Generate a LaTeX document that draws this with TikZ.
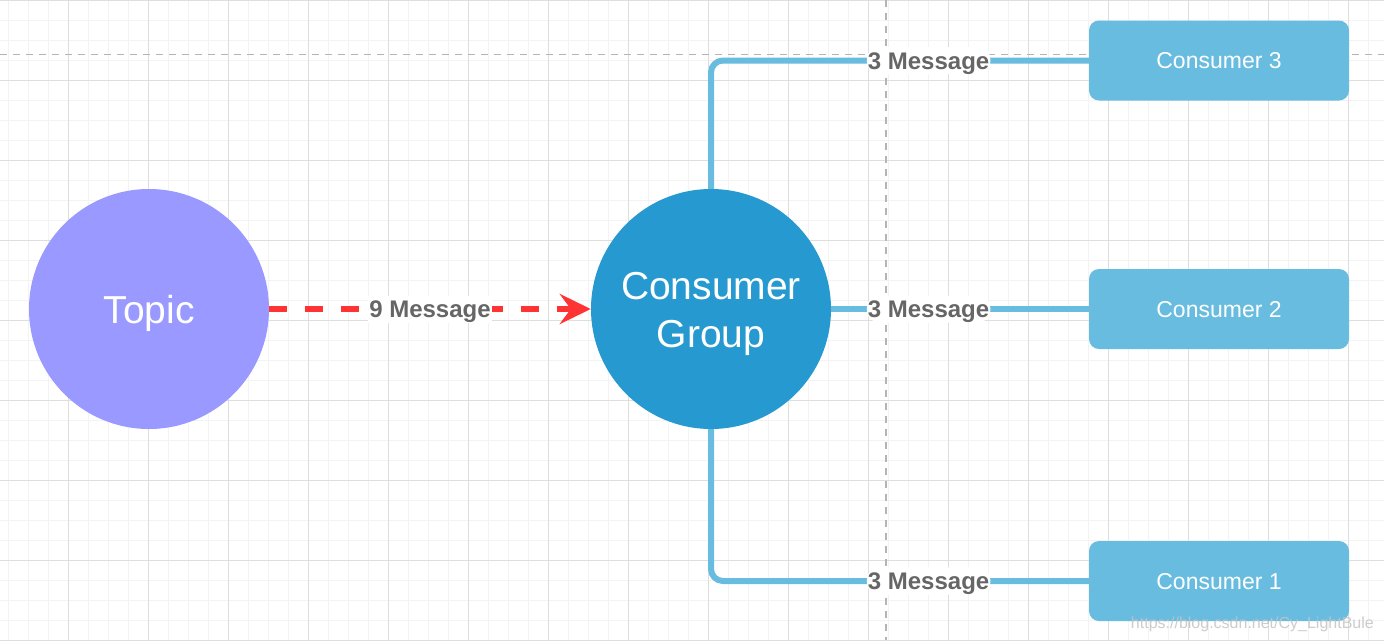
\documentclass[tikz,border=0pt]{standalone}
\usepackage{fontspec}
\setmainfont{Liberation Sans}
\usetikzlibrary{arrows.meta}
\definecolor{topicc}{HTML}{9999FF}
\definecolor{groupc}{HTML}{269AD0}
\definecolor{consc}{HTML}{68BCE0}
\definecolor{redc}{HTML}{FF3333}
\definecolor{labc}{HTML}{666666}
\definecolor{minorc}{HTML}{F3F3F3}
\definecolor{majorc}{HTML}{DEDEDE}
\definecolor{guidec}{HTML}{B4B4B4}
\definecolor{wmc}{HTML}{C4C4C4}
\begin{document}
\begin{tikzpicture}[x=1pt,y=-1pt,
  circ/.style={circle, minimum size=240pt, inner sep=0pt, text=white,
    font=\fontsize{39}{48}\selectfont, align=center, text height=28pt, text depth=0pt},
  cons/.style={rectangle, rounded corners=10pt, fill=consc, minimum width=260pt,
    minimum height=80pt, text=white, font=\fontsize{23}{28}\selectfont,
    text height=16.5pt, text depth=0pt},
  link/.style={draw=consc, line width=6pt, rounded corners=12pt},
  lab/.style={fill=white, text=labc, font=\fontsize{24}{28}\selectfont\bfseries,
    inner sep=1pt, text height=21pt, text depth=4pt},
  guide/.style={guidec, line width=1.5pt, dash pattern=on 7pt off 6pt}
]
\useasboundingbox (0,0) rectangle (1384,640);
\fill[white] (0,0) rectangle (1384,640);
\foreach \x in {8,28,...,1384} \draw[minorc, line width=1pt] (\x,0) -- (\x,640);
\foreach \y in {0,20,...,640} \draw[minorc, line width=1pt] (0,\y) -- (1384,\y);
\foreach \x in {68,148,...,1384} \draw[majorc, line width=1pt] (\x,0) -- (\x,640);
\foreach \y in {0,80,...,640} \draw[majorc, line width=1pt] (0,\y) -- (1384,\y);
\draw[guide] (0,54.5) -- (1384,54.5);
\draw[guide] (886,0) -- (886,640);

\node[circ, fill=topicc] (topic) at (149,309) {Topic};
\node[circ, fill=groupc, text height=76pt] (group) at (711,309) {Consumer\\Group};
\node[cons] (c3) at (1219,60.5) {Consumer 3};
\node[cons] (c2) at (1219,309) {Consumer 2};
\node[cons] (c1) at (1219,581) {Consumer 1};

\draw[link] (group.north) |- node[lab, pos=0.788] {3 Message} (c3.west);
\draw[link] (group.east) -- node[lab, pos=0.378] {3 Message} (c2.west);
\draw[link] (group.south) |- node[lab, pos=0.788] {3 Message} (c1.west);

\draw[draw=redc, line width=6pt, dash pattern=on 18pt off 18pt,
  -{Stealth[length=31pt, width=30pt, inset=11pt, fill=redc]}]
  (topic) -- node[lab] {9 Message} (group);

\node[text=wmc, opacity=0.85, font=\fontsize{16}{18}\selectfont, anchor=base east, inner sep=0pt]
  (wm) at (1374,628) {https://blog.csdn.net/Cy\_LightBule};
\end{tikzpicture}
\end{document}
